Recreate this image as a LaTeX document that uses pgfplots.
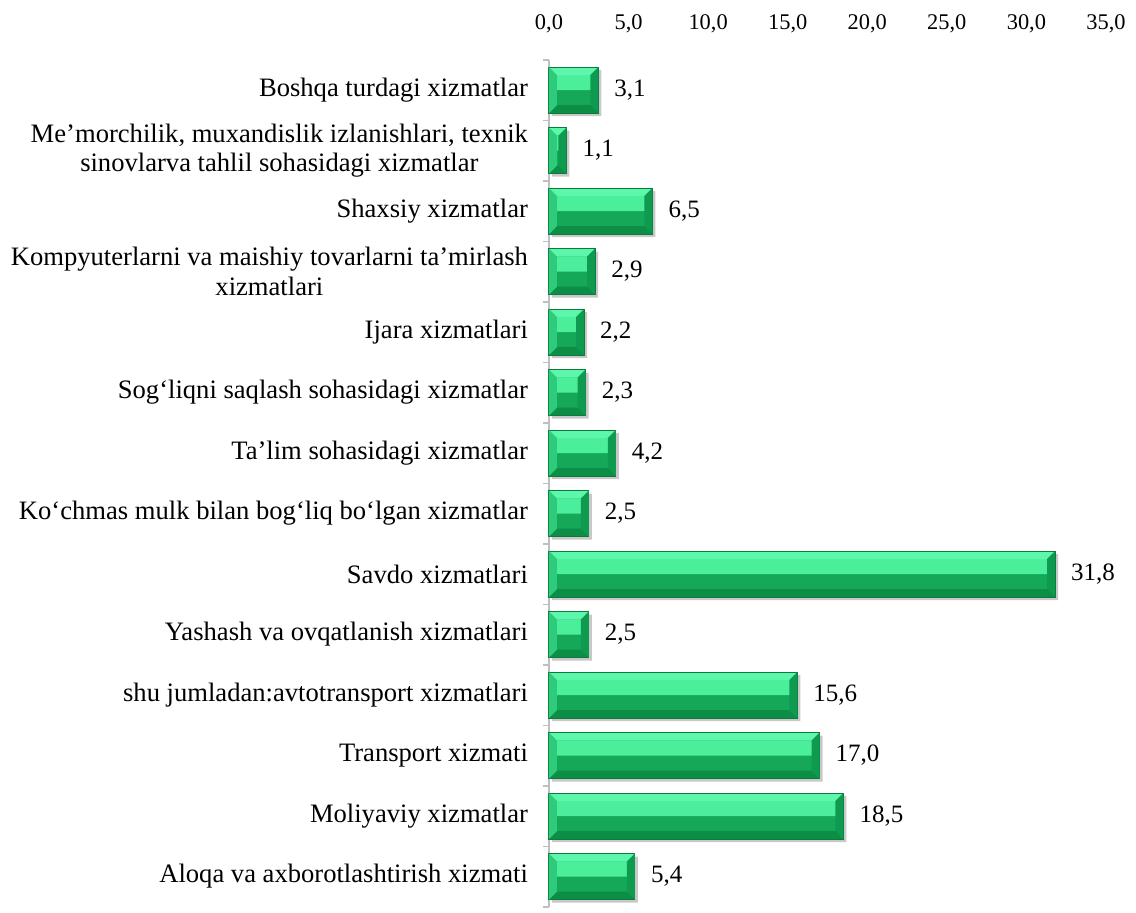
\documentclass[border=0pt]{standalone}
\usepackage{pgfplots}
\pgfplotsset{compat=1.18}
\usepackage{pgfplotstable}
\usepackage{fontspec}
\setmainfont{Liberation Serif}
\definecolor{ginlo}{HTML}{14A858}
\definecolor{ginup}{HTML}{4BEE9B}
\definecolor{gtop}{HTML}{5DF7AC}
\definecolor{gbot}{HTML}{0C8E47}
\definecolor{gleft}{HTML}{2ECB7B}
\definecolor{gright}{HTML}{0E9A4F}
\definecolor{gedge}{HTML}{0B7A3C}
\definecolor{axgray}{HTML}{BFBFBF}
\definecolor{shadow}{HTML}{C8C8C8}
\pgfdeclareplotmark{bevL}{%
  \pgfpathmoveto{\pgfpoint{0pt}{11.5pt}}%
  \pgfpathlineto{\pgfpoint{4pt}{7.5pt}}%
  \pgfpathlineto{\pgfpoint{4pt}{-7.5pt}}%
  \pgfpathlineto{\pgfpoint{0pt}{-11.5pt}}%
  \pgfpathclose\pgfusepathqfill}
\pgfdeclareplotmark{bevR}{%
  \pgfpathmoveto{\pgfpoint{0pt}{11.5pt}}%
  \pgfpathlineto{\pgfpoint{-4pt}{7.5pt}}%
  \pgfpathlineto{\pgfpoint{-4pt}{-7.5pt}}%
  \pgfpathlineto{\pgfpoint{0pt}{-11.5pt}}%
  \pgfpathclose\pgfusepathqfill}
\pgfplotstableread{
y v
0 5.4
1 18.5
2 17.0
3 15.6
4 2.5
5 31.8
6 2.5
7 4.2
8 2.3
9 2.2
10 2.9
11 6.5
12 1.1
13 3.1
}\data
\begin{document}
\begin{tikzpicture}
\path[use as bounding box] (-274.5pt,-2.6pt) rectangle (293.5pt,453.4pt);
\begin{axis}[
  at={(0,0)}, anchor=south west,
  scale only axis, width=278.5pt, height=423.5pt,
  xbar, xmin=0, xmax=35, ymin=-0.5, ymax=13.5,
  clip=false,
  axis y line*=left, axis x line*=top,
  x axis line style={draw=none},
  y axis line style={axgray, line width=0.8pt},
  xtick={0,5,...,35}, major x tick style={draw=none},
  xticklabel shift=10pt,
  ytick={0,...,13}, major tick length=0pt,
  minor ytick={-0.5,0.5,...,13.5}, minor tick length=3pt,
  tick align=outside, minor tick style={axgray, line width=0.8pt},
  yticklabels={
    Aloqa va axborotlashtirish xizmati,
    Moliyaviy xizmatlar,
    Transport xizmati,
    shu jumladan:avtotransport xizmatlari,
    Yashash va ovqatlanish xizmatlari,
    Savdo xizmatlari,
    Ko‘chmas mulk bilan bogʻliq bo‘lgan xizmatlar,
    Ta’lim sohasidagi xizmatlar,
    Sogʻliqni saqlash sohasidagi xizmatlar,
    Ijara xizmatlari,
    {Kompyuterlarni va maishiy tovarlarni ta’mirlash\\xizmatlari},
    Shaxsiy xizmatlar,
    {Me’morchilik, muxandislik izlanishlari, texnik\\sinovlarva tahlil sohasidagi xizmatlar},
    Boshqa turdagi xizmatlar},
  yticklabel style={align=center, font=\fontsize{13.3}{14.8}\selectfont, xshift=-7pt},
  xticklabel style={font=\fontsize{11.2}{13}\selectfont},
  /pgf/number format/.cd, fixed, fixed zerofill, precision=1, use comma, assume math mode=true,
]
\addplot[fill=shadow, draw=none, bar width=23pt, bar shift=-1.5pt, xshift=1.5pt, forget plot] table[x=v, y=y] {\data};
\addplot[fill=ginlo, draw=none, bar width=23pt, bar shift=0pt] table[x=v, y=y] {\data};
\addplot[fill=ginup, draw=none, bar width=7.5pt, bar shift=3.75pt] table[x=v, y=y] {\data};
\addplot[fill=gtop, draw=none, bar width=4pt, bar shift=9.5pt] table[x=v, y=y] {\data};
\addplot[fill=gbot, draw=none, bar width=4pt, bar shift=-9.5pt] table[x=v, y=y] {\data};
\addplot[only marks, mark=bevL, mark options={fill=gleft, draw=none}, forget plot] table[x expr=0, y=y] {\data};
\addplot[only marks, mark=bevR, mark options={fill=gright, draw=none}, forget plot] table[x=v, y=y] {\data};
\addplot[fill=none, draw=gedge, line width=0.5pt, bar width=23pt, bar shift=0pt,
  nodes near coords, every node near coord/.append style={font=\fontsize{12.5}{14}\selectfont, anchor=west, xshift=4.5pt, text=black}]
  table[x=v, y=y] {\data};
\end{axis}
\end{tikzpicture}
\end{document}
